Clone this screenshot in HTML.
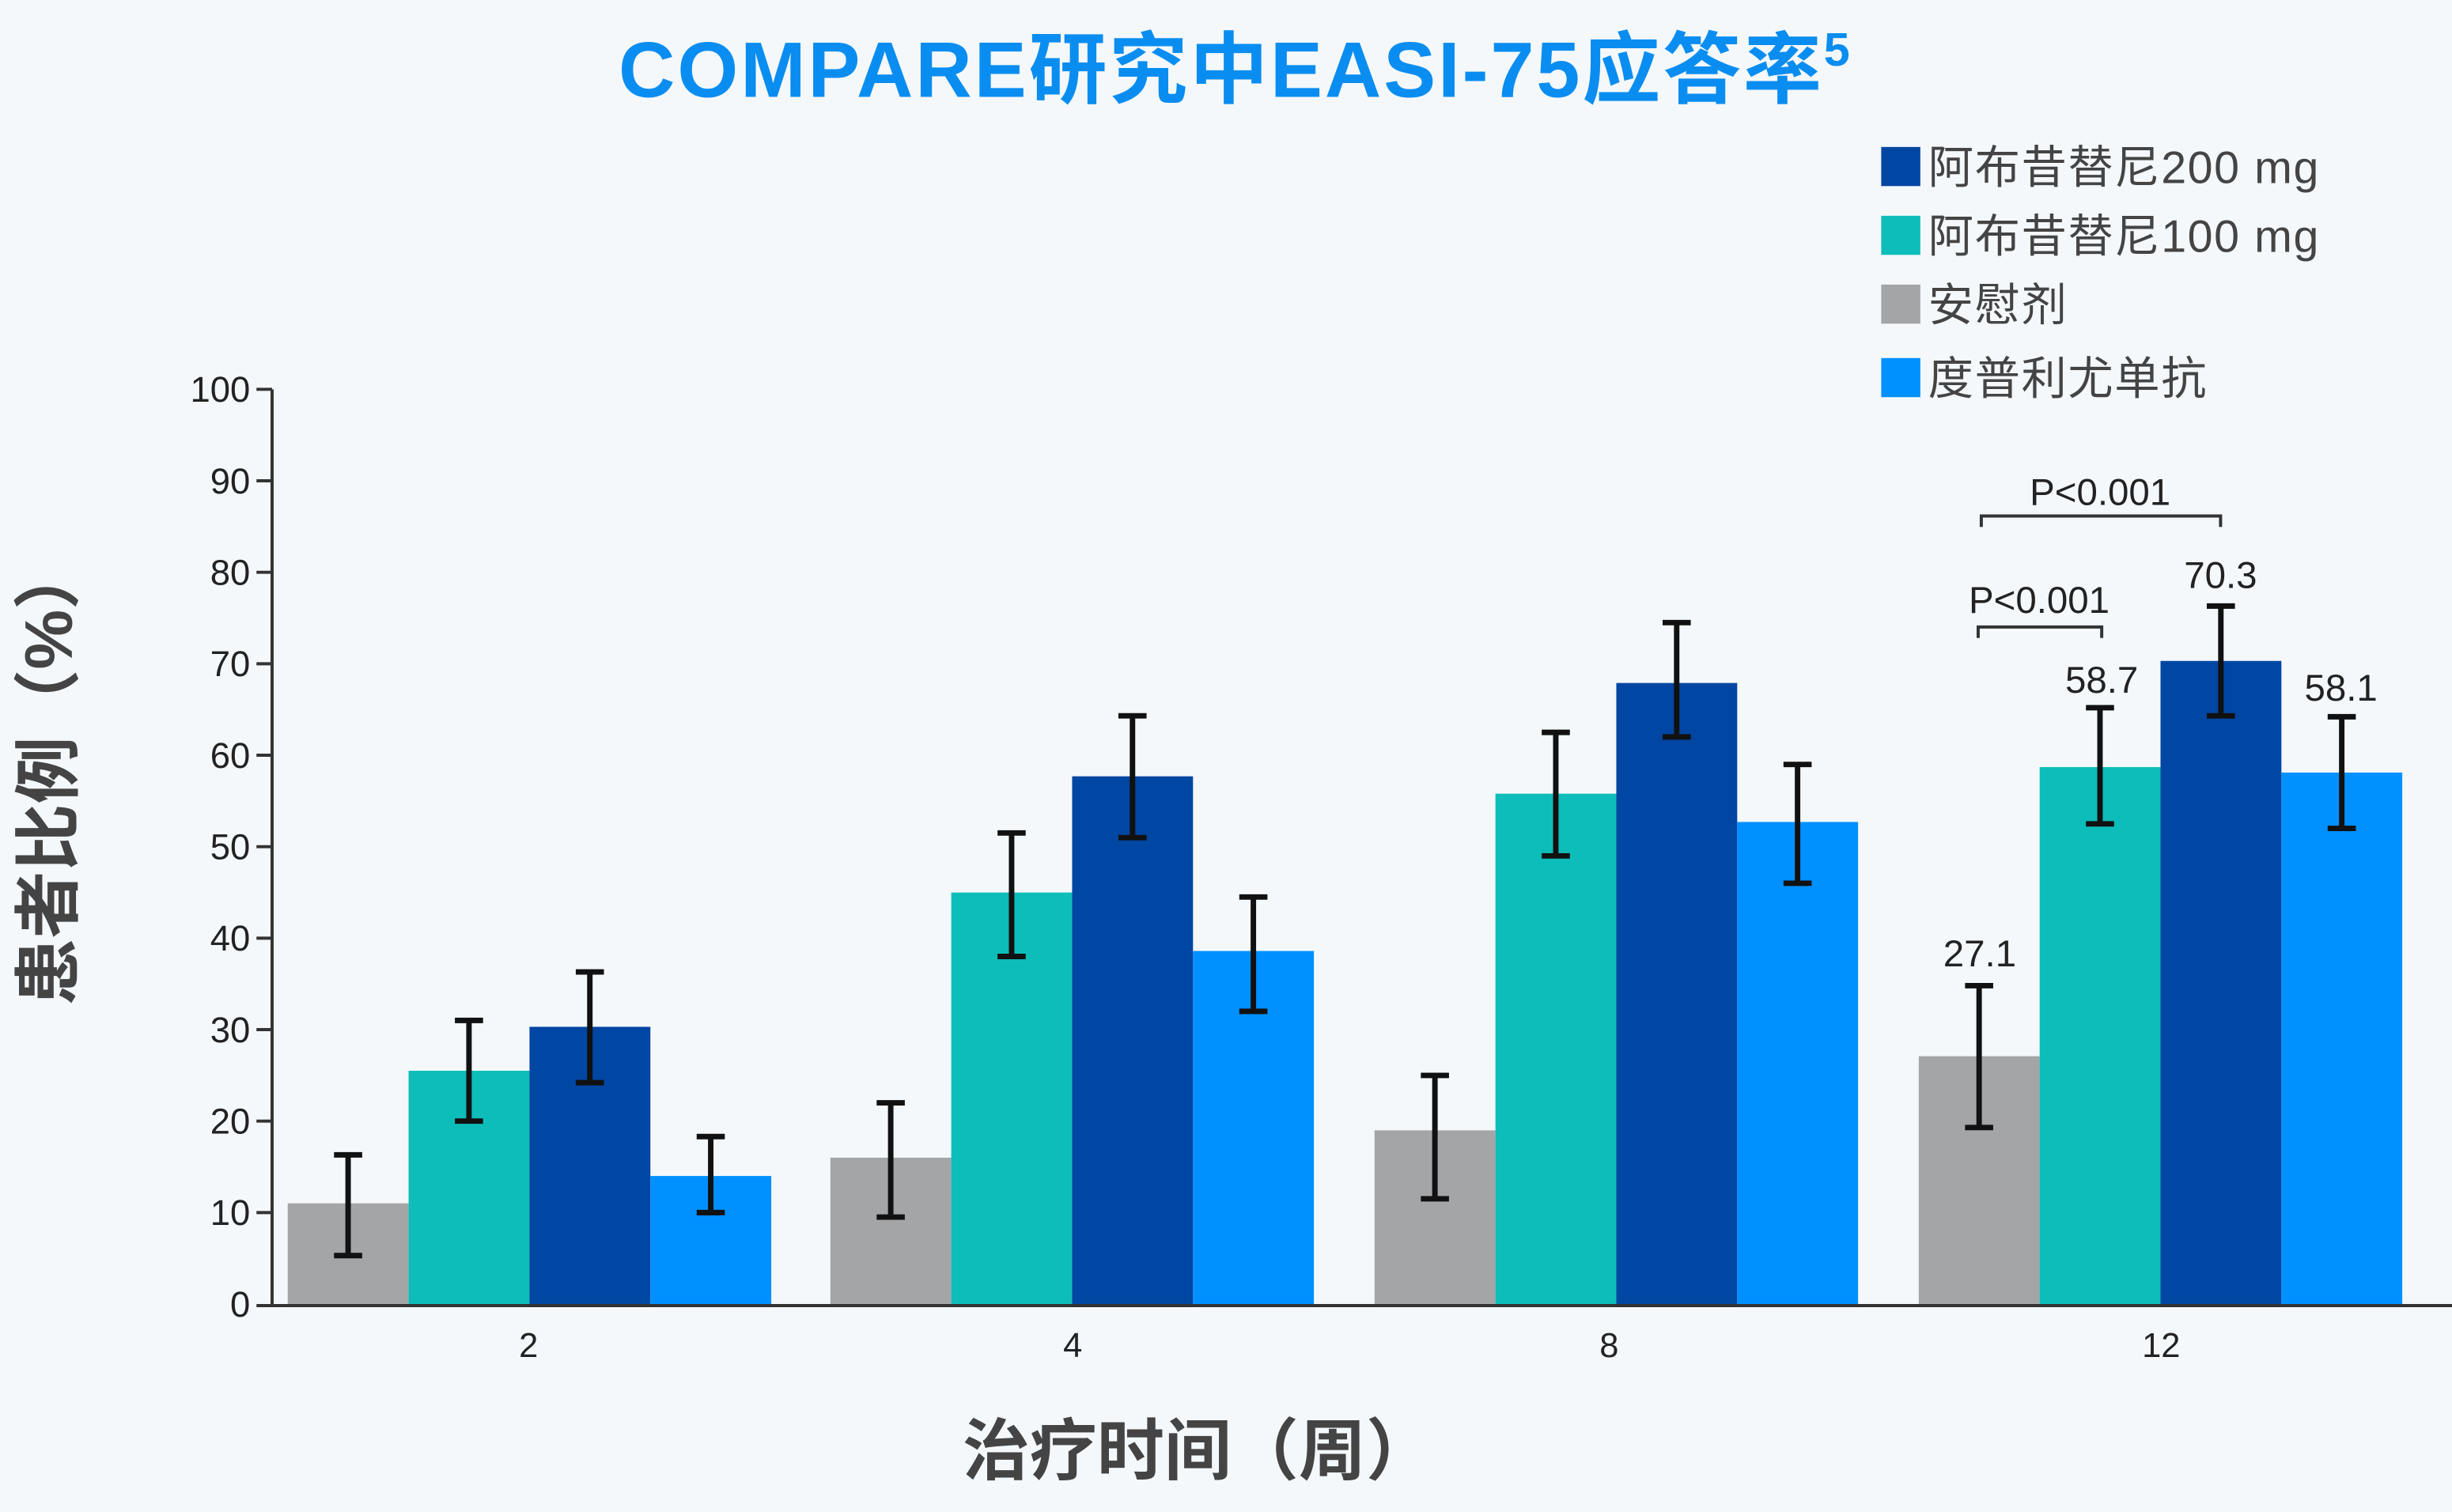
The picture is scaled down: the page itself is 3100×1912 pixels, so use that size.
<!DOCTYPE html>
<html><head><meta charset="utf-8"><style>
html,body{margin:0;padding:0;background:#f4f8fb;}
svg{display:block;}
text{font-family:"Liberation Sans","Noto Sans CJK SC",sans-serif;}
</style></head><body>
<svg width="3100" height="1912" viewBox="0 0 1568 967" preserveAspectRatio="none" xmlns="http://www.w3.org/2000/svg">
<rect width="1568" height="967" fill="#f4f8fb"/>
<text x="790" y="62" text-anchor="middle" font-size="50" font-weight="bold" fill="#0a8df0" letter-spacing="1.5">COMPARE研究中EASI-75应答率<tspan font-size="30" dy="-20">5</tspan></text>

<g font-size="29" fill="#444" letter-spacing="0.8">
<rect x="1203" y="94" width="25" height="25" fill="#0046a3"/><text x="1233" y="117">阿布昔替尼200 mg</text>
<rect x="1203" y="138" width="25" height="25" fill="#0dbdb9"/><text x="1233" y="161">阿布昔替尼100 mg</text>
<rect x="1203" y="182" width="25" height="25" fill="#a3a5a6"/><text x="1233" y="205">安慰剂</text>
<rect x="1203" y="229" width="25" height="25" fill="#0090ff"/><text x="1233" y="252">度普利尤单抗</text>
</g>

<g>
<rect x="184" y="769.6" width="77.3" height="64.4" fill="#a3a5a6"/>
<rect x="261.3" y="684.8" width="77.3" height="149.2" fill="#0dbdb9"/>
<rect x="338.6" y="656.7" width="77.3" height="177.3" fill="#0046a3"/>
<rect x="415.9" y="752.1" width="77.3" height="81.9" fill="#0090ff"/>
<rect x="531" y="740.4" width="77.3" height="93.6" fill="#a3a5a6"/>
<rect x="608.3" y="570.8" width="77.3" height="263.2" fill="#0dbdb9"/>
<rect x="685.6" y="496.5" width="77.3" height="337.5" fill="#0046a3"/>
<rect x="762.9" y="608.2" width="77.3" height="225.8" fill="#0090ff"/>
<rect x="879" y="722.9" width="77.3" height="111.1" fill="#a3a5a6"/>
<rect x="956.3" y="507.6" width="77.3" height="326.4" fill="#0dbdb9"/>
<rect x="1033.6" y="436.8" width="77.3" height="397.2" fill="#0046a3"/>
<rect x="1110.9" y="525.7" width="77.3" height="308.3" fill="#0090ff"/>
<rect x="1227" y="675.5" width="77.3" height="158.5" fill="#a3a5a6"/>
<rect x="1304.3" y="490.6" width="77.3" height="343.4" fill="#0dbdb9"/>
<rect x="1381.6" y="422.7" width="77.3" height="411.3" fill="#0046a3"/>
<rect x="1458.9" y="494.1" width="77.3" height="339.9" fill="#0090ff"/>
</g>

<g stroke="#333" stroke-width="2" fill="none">
<line x1="174" y1="249" x2="174" y2="835"/>
<line x1="164" y1="835" x2="1568" y2="835"/>
<line x1="164" y1="249" x2="174" y2="249"/>
<line x1="164" y1="307.5" x2="174" y2="307.5"/>
<line x1="164" y1="366" x2="174" y2="366"/>
<line x1="164" y1="424.5" x2="174" y2="424.5"/>
<line x1="164" y1="483" x2="174" y2="483"/>
<line x1="164" y1="541.5" x2="174" y2="541.5"/>
<line x1="164" y1="600" x2="174" y2="600"/>
<line x1="164" y1="658.5" x2="174" y2="658.5"/>
<line x1="164" y1="717" x2="174" y2="717"/>
<line x1="164" y1="775.5" x2="174" y2="775.5"/>
</g>
<g font-size="23" fill="#222" text-anchor="end">
<text x="160" y="257">100</text><text x="160" y="315.5">90</text><text x="160" y="374">80</text>
<text x="160" y="432.5">70</text><text x="160" y="491">60</text><text x="160" y="549.5">50</text>
<text x="160" y="608">40</text><text x="160" y="666.5">30</text><text x="160" y="725">20</text>
<text x="160" y="783.5">10</text><text x="160" y="842">0</text>
</g>
<g font-size="22" fill="#222" text-anchor="middle">
<text x="338" y="868">2</text><text x="686" y="868">4</text><text x="1029" y="868">8</text><text x="1382" y="868">12</text>
</g>

<g stroke="#111" stroke-width="3.5">
<path d="M222.6 803V738.6M213.6 803h18M213.6 738.6h18"/>
<path d="M299.9 717V652.6M290.9 717h18M290.9 652.6h18"/>
<path d="M377.2 692.4V621.6M368.2 692.4h18M368.2 621.6h18"/>
<path d="M454.5 775.5V726.9M445.5 775.5h18M445.5 726.9h18"/>
<path d="M569.6 778.4V705.3M560.6 778.4h18M560.6 705.3h18"/>
<path d="M646.9 611.7V532.7M637.9 611.7h18M637.9 532.7h18"/>
<path d="M724.2 535.7V457.8M715.2 535.7h18M715.2 457.8h18"/>
<path d="M801.5 646.8V573.7M792.5 646.8h18M792.5 573.7h18"/>
<path d="M917.6 766.7V687.8M908.6 766.7h18M908.6 687.8h18"/>
<path d="M994.9 547.4V468.4M985.9 547.4h18M985.9 468.4h18"/>
<path d="M1072.2 471.3V398.2M1063.2 471.3h18M1063.2 398.2h18"/>
<path d="M1149.5 564.9V488.9M1140.5 564.9h18M1140.5 488.9h18"/>
<path d="M1265.6 721.1V630.4M1256.6 721.1h18M1256.6 630.4h18"/>
<path d="M1342.9 526.9V452.6M1333.9 526.9h18M1333.9 452.6h18"/>
<path d="M1420.2 457.8V387.6M1411.2 457.8h18M1411.2 387.6h18"/>
<path d="M1497.5 529.8V458.4M1488.5 529.8h18M1488.5 458.4h18"/>
</g>

<g font-size="24" fill="#222" text-anchor="middle">
<text x="1266" y="618">27.1</text>
<text x="1344" y="443">58.7</text>
<text x="1420" y="376">70.3</text>
<text x="1497" y="448">58.1</text>
<text x="1304" y="392">P&lt;0.001</text>
<text x="1343" y="323">P&lt;0.001</text>
</g>
<g stroke="#333" stroke-width="2" fill="none">
<path d="M1265 408V401H1344V408"/>
<path d="M1267 337V330H1420V337"/>
</g>

<text x="766" y="943" text-anchor="middle" font-size="43" font-weight="bold" fill="#444">治疗时间（周）</text>
<text transform="translate(46,495) rotate(-90)" text-anchor="middle" font-size="43" font-weight="bold" fill="#444">患者比例（%）</text>
</svg>
</body></html>
